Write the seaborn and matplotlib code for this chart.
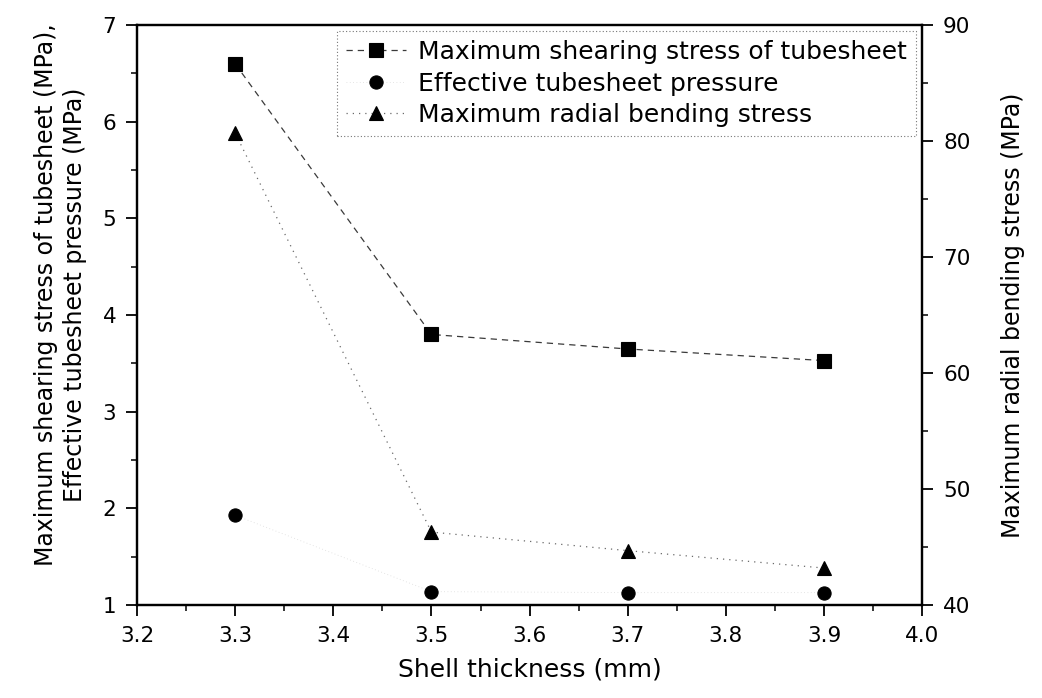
import matplotlib
matplotlib.use("Agg")
import matplotlib.pyplot as plt
from matplotlib.ticker import MultipleLocator, FormatStrFormatter
import seaborn as sns

# Shell thickness (mm) and the three computed responses
thickness = [3.3, 3.5, 3.7, 3.9]
shear_stress = [6.60, 3.80, 3.65, 3.53]        # MPa, left axis
effective_pressure = [1.93, 1.14, 1.13, 1.13]  # MPa, left axis
bending_stress = [80.7, 46.3, 44.7, 43.2]      # MPa, right axis

labels = ["Maximum shearing stress of tubesheet",
          "Effective tubesheet pressure",
          "Maximum radial bending stress"]

sns.set_style("ticks")
plt.rcParams["font.family"] = ["DejaVu Sans"]
plt.rcParams["text.color"] = "black"
plt.rcParams["axes.labelcolor"] = "black"
plt.rcParams["axes.linewidth"] = 1.6

fig, ax = plt.subplots(figsize=(10.42, 6.98), dpi=100)
fig.subplots_adjust(left=0.1315, right=0.885, bottom=0.133, top=0.964)
ax2 = ax.twinx()

marker_style = dict(markeredgecolor="black", markerfacecolor="black",
                    markeredgewidth=0.8)

sns.lineplot(x=thickness, y=shear_stress, marker="s", markersize=9.5,
             color="#3a3a3a", linestyle=(0, (5, 4)), linewidth=0.9,
             label=labels[0], ax=ax, **marker_style)
sns.lineplot(x=thickness, y=effective_pressure, marker="o", markersize=9.5,
             color="#dcdcdc", linestyle=(0, (1, 3)), linewidth=0.6,
             label=labels[1], ax=ax, **marker_style)
sns.lineplot(x=thickness, y=bending_stress, marker="^", markersize=10.5,
             color="#6a6a6a", linestyle=(0, (1, 4)), linewidth=0.9,
             label=labels[2], ax=ax2, **marker_style)

for a in (ax, ax2):
    if a.get_legend() is not None:
        a.get_legend().remove()

# Axis ranges and ticks
ax.set_xlim(3.2, 4.0)
ax.set_ylim(1, 7)
ax2.set_ylim(40, 90)
ax.xaxis.set_major_locator(MultipleLocator(0.1))
ax.xaxis.set_minor_locator(MultipleLocator(0.05))
ax.xaxis.set_major_formatter(FormatStrFormatter("%.1f"))
ax.yaxis.set_major_locator(MultipleLocator(1))
ax.yaxis.set_minor_locator(MultipleLocator(0.5))
ax.yaxis.set_major_formatter(FormatStrFormatter("%d"))
ax2.yaxis.set_major_locator(MultipleLocator(10))
ax2.yaxis.set_minor_locator(MultipleLocator(5))
ax2.yaxis.set_major_formatter(FormatStrFormatter("%d"))

for a in (ax, ax2):
    a.tick_params(which="major", direction="out", length=8, width=1.3,
                  labelsize=15.5, pad=7, colors="black")
    a.tick_params(which="minor", direction="out", length=4, width=1.1,
                  colors="black")
    for s in a.spines.values():
        s.set_visible(True)
        s.set_linewidth(1.6)
        s.set_color("black")
ax.tick_params(axis="x", pad=7)
ax.tick_params(axis="y", which="both", right=False)

ax.set_xlabel("Shell thickness (mm)", fontsize=18, labelpad=8)
ax.set_ylabel("Maximum shearing stress of tubesheet (MPa),\n"
              "Effective tubesheet pressure (MPa)",
              fontsize=17, linespacing=1.25)
ax.yaxis.set_label_coords(-0.064, 0.535)
ax2.set_ylabel("Maximum radial bending stress (MPa)", fontsize=17,
               labelpad=22)

# Combined legend in the upper right corner
h1, l1 = ax.get_legend_handles_labels()
h2, l2 = ax2.get_legend_handles_labels()
leg = ax2.legend(h1 + h2, l1 + l2, loc="upper right",
                 bbox_to_anchor=(1.0, 1.0), borderaxespad=0.25,
                 fontsize=18, frameon=True, fancybox=False,
                 borderpad=0.35, labelspacing=0.3, handlelength=2.4,
                 handletextpad=0.5)
frame = leg.get_frame()
frame.set_edgecolor("#777777")
frame.set_linewidth(0.8)
frame.set_linestyle((0, (1, 2)))
frame.set_facecolor("white")
frame.set_alpha(1)

fig.savefig("out.png", dpi=100)
